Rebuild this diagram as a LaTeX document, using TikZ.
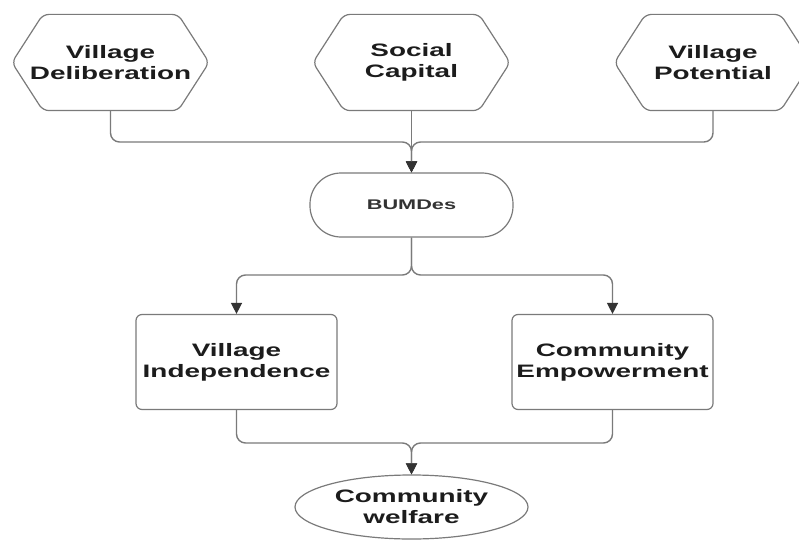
\documentclass[tikz,border=0pt]{standalone}
\usepackage{fontspec}
\setmainfont{Liberation Sans}[FakeStretch=1.55]
\usetikzlibrary{shapes.geometric,arrows.meta}
\definecolor{linegray}{HTML}{7A7A7A}
\definecolor{tipgray}{HTML}{333333}
\definecolor{textgray}{HTML}{1C1C1C}

\begin{document}
\begin{tikzpicture}[x=1pt, y=1pt,
    box/.style = {draw=linegray, line width=1.2pt, align=center, inner sep=0pt,
        text=textgray, font=\fontsize{18}{21}\selectfont\bfseries},
    hexa/.style = {box, draw=none, minimum width=196pt, minimum height=95pt},
    hexline/.style = {draw=linegray, line width=1.2pt, rounded corners=6pt},
    pill/.style = {box, rectangle, rounded corners=31pt, minimum width=203pt,
        minimum height=64pt, text=tipgray, font=\fontsize{14}{17}\selectfont\bfseries},
    card/.style = {box, rectangle, rounded corners=6pt, minimum width=201pt, minimum height=95pt},
    oval/.style = {box, ellipse, minimum width=233pt, minimum height=64pt},
    link/.style = {draw=linegray, line width=1.4pt, rounded corners=9pt,
        -{Triangle[width=11pt, length=11pt, color=tipgray]}}]
    \useasboundingbox (0,0) rectangle (799,539);
    \node[hexa] (delib) at (110.5,476.5) {Village\\Deliberation};
    \node[hexa] (social) at (411.5,476.5) {Social\\Capital};
    \node[hexa] (potent) at (713,476.5) {Village\\Potential};
    \foreach \n in {delib,social,potent}
        \draw[hexline] ([xshift=31pt]\n.north west) -- ([xshift=-31pt]\n.north east)
            -- (\n.east) -- ([xshift=-31pt]\n.south east)
            -- ([xshift=31pt]\n.south west) -- (\n.west) -- cycle;
    \node[pill] (bumdes) at (411.5,334) {BUMDes};
    \node[card] (indep) at (236.5,177) {Village\\Independence};
    \node[card] (empow) at (612.5,177) {Community\\Empowerment};
    \node[oval] (welfare) at (411.5,32) {Community\\welfare};
    \coordinate (top) at (411.5,397);
    \coordinate (mid) at (411.5,264);
    \coordinate (low) at (411.5,96);
    \draw[link] (delib.south) |- (top) -- (bumdes.north);
    \draw[link] (potent.south) |- (top) -- (bumdes.north);
    \draw[link] (social.south) -- (bumdes.north);
    \draw[link] (bumdes.south) -- (mid) -| (indep.north);
    \draw[link] (bumdes.south) -- (mid) -| (empow.north);
    \draw[link] (indep.south) |- (low) -- (welfare.north);
    \draw[link] (empow.south) |- (low) -- (welfare.north);
\end{tikzpicture}
\end{document}
